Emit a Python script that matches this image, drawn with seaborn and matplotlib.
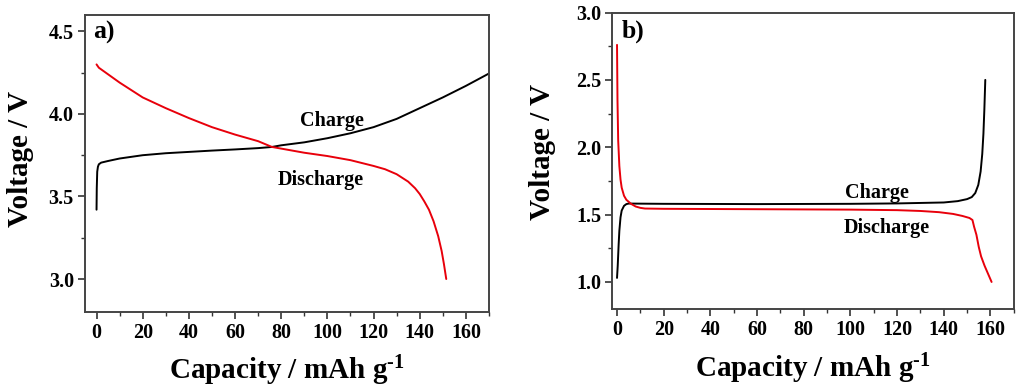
import numpy as np
import seaborn as sns
import matplotlib.pyplot as plt
from matplotlib.ticker import MultipleLocator
import pandas as pd

# panel a) charge / discharge curves
cap_a_charge = [0, 0.1, 0.3, 0.6, 1, 2, 5, 10, 20, 30, 40, 50, 60, 70, 76, 80, 90, 100,
                110, 120, 130, 140, 150, 160, 170]
volt_a_charge = [3.42, 3.55, 3.65, 3.68, 3.695, 3.705, 3.715, 3.73, 3.75, 3.762, 3.77, 3.778,
                 3.785, 3.793, 3.80, 3.81, 3.828, 3.853, 3.883, 3.92, 3.97, 4.035, 4.10,
                 4.17, 4.245]
cap_a_dis = [0, 1, 5, 10, 20, 30, 40, 50, 60, 70, 76, 80, 90, 100, 110, 120, 125, 130,
             135, 138, 140, 142, 144, 146, 148, 149.5, 150.5, 151.5]
volt_a_dis = [4.30, 4.28, 4.24, 4.19, 4.10, 4.035, 3.975, 3.92, 3.875, 3.835, 3.80, 3.79,
              3.765, 3.745, 3.72, 3.685, 3.665, 3.635, 3.59, 3.55, 3.515, 3.47, 3.42, 3.35,
              3.26, 3.17, 3.09, 3.0]

# panel b) charge / discharge curves
cap_b_charge = [0, 0.3, 0.7, 1, 1.5, 2, 3, 4, 5, 20, 60, 100, 120, 140, 146, 150, 152,
                153.5, 154.8, 155.8, 156.5, 157, 157.4, 157.8]
volt_b_charge = [1.03, 1.12, 1.28, 1.38, 1.48, 1.53, 1.565, 1.578, 1.582, 1.58, 1.578,
                 1.58, 1.583, 1.59, 1.60, 1.615, 1.63, 1.66, 1.72, 1.82, 1.95, 2.10, 2.28,
                 2.50]
cap_b_dis = [0, 0.2, 0.5, 1, 1.5, 2, 3, 4, 6, 8, 10, 12, 20, 60, 100, 120, 130, 138, 144,
             148, 151, 152.3, 153, 154, 155, 156, 157.5, 159, 160.5]
volt_b_dis = [2.76, 2.35, 2.05, 1.86, 1.76, 1.70, 1.64, 1.61, 1.58, 1.56, 1.55, 1.545,
              1.543, 1.54, 1.537, 1.533, 1.527, 1.518, 1.505, 1.49, 1.475, 1.46, 1.41,
              1.35, 1.26, 1.19, 1.12, 1.06, 1.0]

df_a_c = pd.DataFrame({"cap": cap_a_charge, "v": volt_a_charge})
df_a_d = pd.DataFrame({"cap": cap_a_dis, "v": volt_a_dis})
df_b_c = pd.DataFrame({"cap": cap_b_charge, "v": volt_b_charge})
df_b_d = pd.DataFrame({"cap": cap_b_dis, "v": volt_b_dis})

sns.set_style("ticks")
plt.rcParams['font.family'] = ['Liberation Serif', 'DejaVu Serif']
plt.rcParams['font.weight'] = 'bold'
plt.rcParams['text.color'] = 'black'
plt.rcParams['axes.labelcolor'] = 'black'
plt.rcParams['mathtext.fontset'] = 'custom'
plt.rcParams['mathtext.rm'] = 'Liberation Serif:bold'
plt.rcParams['mathtext.bf'] = 'Liberation Serif:bold'
plt.rcParams['mathtext.it'] = 'Liberation Serif:bold'

fig = plt.figure(figsize=(10.24, 3.92), dpi=100)
ax1 = fig.add_axes([0.083, 0.204, 0.3945, 0.758])
ax2 = fig.add_axes([0.598, 0.212, 0.392, 0.756])

sns.lineplot(data=df_a_c, x="cap", y="v", sort=False, color="black", lw=1.4, ax=ax1)
sns.lineplot(data=df_a_d, x="cap", y="v", sort=False, color="#e8000b", lw=1.4, ax=ax1)
sns.lineplot(data=df_b_c, x="cap", y="v", sort=False, color="black", lw=1.4, ax=ax2)
sns.lineplot(data=df_b_d, x="cap", y="v", sort=False, color="#e8000b", lw=1.4, ax=ax2)

ax1.set_xlim(-5, 170)
ax1.set_ylim(2.8, 4.6)
ax2.set_xlim(-2, 170)
ax2.set_ylim(0.8, 3.0)

for ax in (ax1, ax2):
    ax.xaxis.set_major_locator(MultipleLocator(20))
    ax.xaxis.set_minor_locator(MultipleLocator(10))
    ax.yaxis.set_major_locator(MultipleLocator(0.5))
    ax.yaxis.set_minor_locator(MultipleLocator(0.25))
    ax.yaxis.set_major_formatter(plt.FormatStrFormatter('%.1f'))
    ax.tick_params(which='major', direction='out', length=5, width=1.2,
                   labelsize=14.5, colors='#333333', labelcolor='black', pad=3)
    ax.tick_params(which='minor', direction='out', length=3, width=1.0, colors='#333333')
    for s in ax.spines.values():
        s.set_visible(True)
        s.set_linewidth(1.4)
        s.set_color('#444444')
    for lab in ax.get_xticklabels() + ax.get_yticklabels():
        lab.set_fontweight('bold')
    ax.set_xlabel("Capacity / mAh g$^{\\text{-1}}$", fontsize=21, fontweight='bold')
    ax.set_ylabel("Voltage / V", fontsize=21, fontweight='bold')

ax1.yaxis.set_label_coords(-0.125, 0.515)
ax1.xaxis.set_label_coords(0.5, -0.14)
ax2.yaxis.set_label_coords(-0.14, 0.53)
ax2.xaxis.set_label_coords(0.5, -0.145)

ax1.text(0.02, 0.94, "a)", transform=ax1.transAxes, fontsize=18.5, fontweight='bold', va='center')
ax2.text(0.023, 0.936, "b)", transform=ax2.transAxes, fontsize=18.5, fontweight='bold', va='center')

ax1.text(102, 3.96, "Charge", fontsize=14.5, fontweight='bold', ha='center', va='center')
ax1.text(97, 3.60, "Discharge", fontsize=14.5, fontweight='bold', ha='center', va='center')
ax2.text(111.5, 1.66, "Charge", fontsize=14.5, fontweight='bold', ha='center', va='center')
ax2.text(115.5, 1.40, "Discharge", fontsize=14.5, fontweight='bold', ha='center', va='center')

fig.savefig("out.png", dpi=100)
